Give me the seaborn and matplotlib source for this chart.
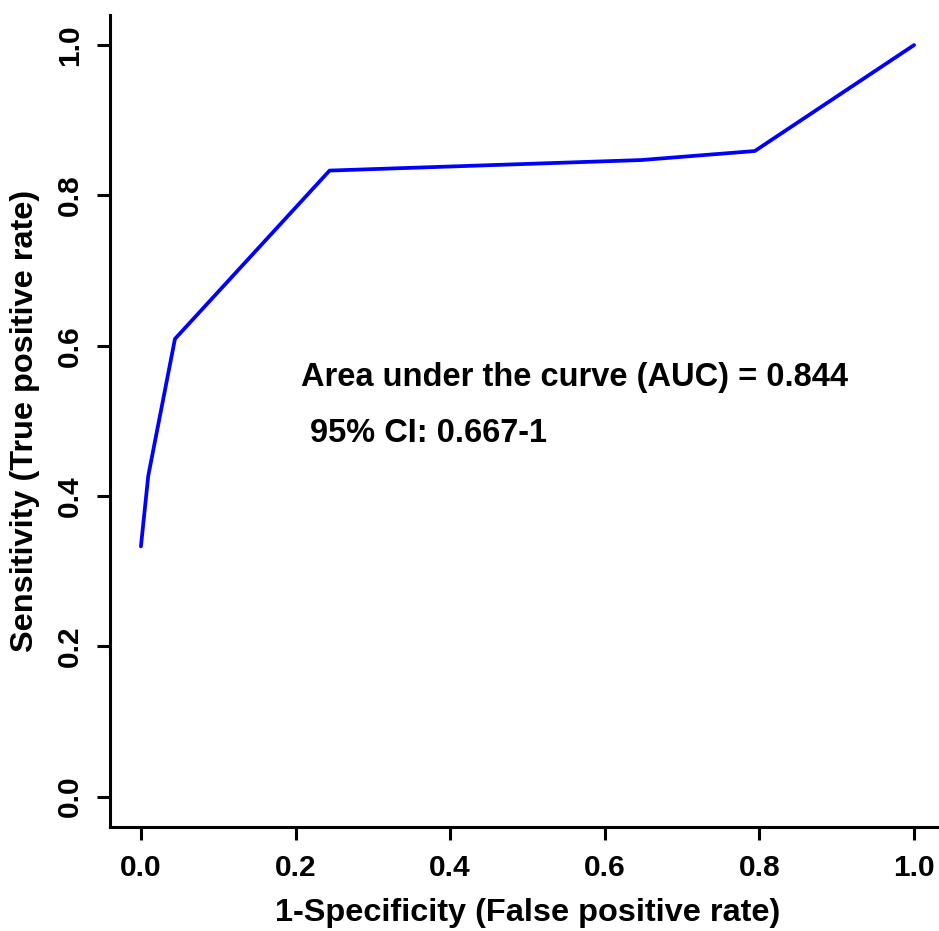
import matplotlib
matplotlib.use("Agg")
import matplotlib.pyplot as plt
import seaborn as sns
import pandas as pd

fpr = [0.0, 0.0095, 0.044, 0.244, 0.647, 0.794, 1.0]
tpr = [0.333, 0.427, 0.609, 0.833, 0.847, 0.859, 1.0]
ticks = [0.0, 0.2, 0.4, 0.6, 0.8, 1.0]
tick_labels = ["0.0", "0.2", "0.4", "0.6", "0.8", "1.0"]
auc_text = "Area under the curve (AUC) = 0.844"
ci_text = "95% CI: 0.667-1"

sns.set_style("ticks")
plt.rcParams['font.family'] = ['Liberation Sans', 'DejaVu Sans']
plt.rcParams['font.weight'] = 'bold'
plt.rcParams['text.color'] = 'black'
plt.rcParams['axes.labelcolor'] = 'black'
plt.rcParams['xtick.color'] = 'black'
plt.rcParams['ytick.color'] = 'black'

df = pd.DataFrame({"fpr": fpr, "tpr": tpr})

fig = plt.figure(figsize=(9.39, 9.31), dpi=100)
ax = fig.add_axes([110/939, 104.3/931, 835/939, 811.7/931])
sns.lineplot(data=df, x="fpr", y="tpr", sort=False, estimator=None,
             color="#0000FF", linewidth=2.7, ax=ax)

ax.set_xlim(-0.04, 1.04)
ax.set_ylim(-0.04, 1.04)
ax.set_xticks(ticks)
ax.set_xticklabels(tick_labels)
ax.set_yticks(ticks)
ax.set_yticklabels(tick_labels, rotation=90, va="center")
for s in ["top", "right"]:
    ax.spines[s].set_visible(False)
for s in ["left", "bottom"]:
    ax.spines[s].set_linewidth(2.2)
    ax.spines[s].set_color("black")
ax.tick_params(axis="both", length=9.5, width=2.2, colors="black",
               labelcolor="black", labelsize=21.5, direction="out")
ax.tick_params(axis="x", pad=10)
ax.tick_params(axis="y", pad=9)
for lab in ax.get_xticklabels() + ax.get_yticklabels():
    lab.set_fontweight("bold")

ax.set_xlabel("1-Specificity (False positive rate)", fontsize=23.4,
              fontweight="bold", labelpad=12, color="black")
ax.set_ylabel("Sensitivity (True positive rate)", fontsize=23.4,
              fontweight="bold", labelpad=12, color="black")

ax.text(0.207, 0.546, auc_text, fontsize=23.5, fontweight="bold",
        ha="left", va="baseline", color="black")
ax.text(0.2185, 0.472, ci_text, fontsize=23.5, fontweight="bold",
        ha="left", va="baseline", color="black")

fig.savefig("out.png", dpi=100, facecolor="white")
